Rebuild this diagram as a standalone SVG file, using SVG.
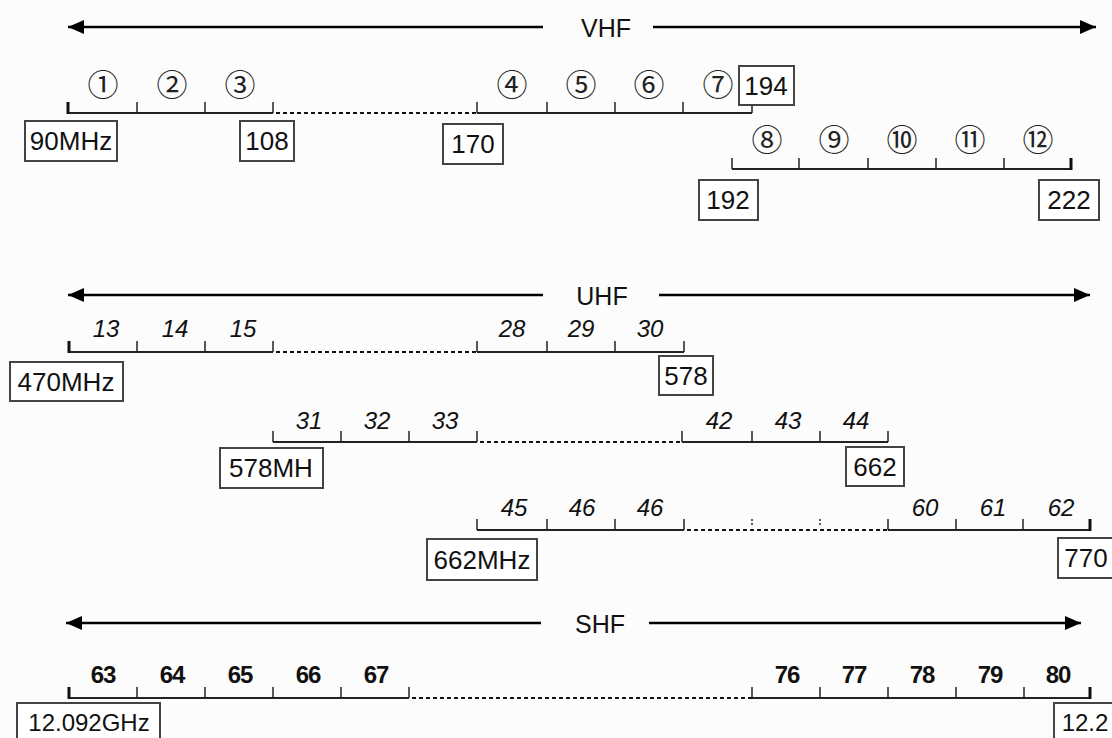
<svg xmlns="http://www.w3.org/2000/svg" width="1112" height="738" viewBox="0 0 1112 738">
<defs>
<marker id="ah" markerUnits="userSpaceOnUse" markerWidth="18" markerHeight="14" refX="16" refY="7" orient="auto"><path d="M0,0 L16,7 L0,14 z" fill="#000"/></marker>
<style>
.ax{stroke:#000;stroke-width:2.5;fill:none}
.band{font-family:"Liberation Sans",Arial,sans-serif;font-size:25px;fill:#111;text-anchor:middle}
.rl{stroke:#222;stroke-width:2;fill:none}
.tk{stroke:#222;stroke-width:1.5;fill:none}
.tkb{stroke:#111;stroke-width:3;fill:none}
.dot{stroke:#111;stroke-width:2;stroke-dasharray:4 3;fill:none}
.mini{stroke:#222;stroke-width:1.5;stroke-dasharray:2 2;fill:none}
.cir{font-family:"Noto Sans CJK JP","DejaVu Sans",sans-serif;font-size:31px;fill:#222;text-anchor:middle}
.it{font-family:"Liberation Sans",Arial,sans-serif;font-style:italic;font-size:24px;fill:#111;text-anchor:middle}
.bd{font-family:"Liberation Sans",Arial,sans-serif;font-weight:bold;font-size:24px;fill:#111;text-anchor:middle;letter-spacing:-1px}
.bx rect{fill:#fff;stroke:#444;stroke-width:2}
.bx text{font-family:"Liberation Sans",Arial,sans-serif;font-size:26px;fill:#111;text-anchor:middle}
.bx text.s{font-size:24px}
</style>
</defs>
<rect width="1112" height="738" fill="#fbfcfb"/>

<g id="connectors">
  <line class="ax" x1="543" y1="27" x2="68" y2="27" marker-end="url(#ah)"/>
  <line class="ax" x1="653" y1="27" x2="1096" y2="27" marker-end="url(#ah)"/>
  <line class="ax" x1="543" y1="295" x2="68" y2="295" marker-end="url(#ah)"/>
  <line class="ax" x1="659" y1="295" x2="1090" y2="295" marker-end="url(#ah)"/>
  <line class="ax" x1="541" y1="623" x2="66" y2="623" marker-end="url(#ah)"/>
  <line class="ax" x1="649" y1="623" x2="1081" y2="623" marker-end="url(#ah)"/>

  <path class="rl" d="M67,113 H273 M477,113 H752"/>
  <path class="tk" d="M137,102V113 M205,102V113 M273,102V113 M477,102V113 M547,102V113 M615,102V113 M683,102V113 M752,105V113"/>
  <path class="tkb" d="M68,102V114"/>
  <path class="dot" d="M276,113 H477"/>

  <path class="rl" d="M732,169 H1072"/>
  <path class="tk" d="M732,158V169 M799,158V169 M868,158V169 M936,158V169 M1004,158V169"/>
  <path class="tkb" d="M1071,158V170"/>

  <path class="rl" d="M68,352 H273 M477,352 H684"/>
  <path class="tk" d="M137,341V352 M205,341V352 M273,341V352 M477,341V352 M547,341V352 M615,341V352 M684,341V352"/>
  <path class="tkb" d="M69,341V353"/>
  <path class="dot" d="M276,352 H477"/>

  <path class="rl" d="M273,442 H477 M682,442 H888"/>
  <path class="tk" d="M273,431V442 M341,431V442 M409,431V442 M477,431V442 M682,431V442 M752,431V442 M820,431V442 M888,431V442"/>
  <path class="dot" d="M480,442 H682"/>

  <path class="rl" d="M477,530 H684 M888,530 H1091"/>
  <path class="tk" d="M477,519V530 M547,519V530 M615,519V530 M684,519V530 M888,519V530 M956,519V530 M1023,519V530"/>
  <path class="tkb" d="M1090,519V531"/>
  <path class="dot" d="M687,530 H888"/>
  <path class="mini" d="M752,519V527 M820,519V527"/>

  <path class="rl" d="M68,698 H409 M752,698 H1091"/>
  <path class="tk" d="M137,687V698 M205,687V698 M273,687V698 M341,687V698 M409,687V698 M752,687V698 M820,687V698 M888,687V698 M956,687V698 M1024,687V698"/>
  <path class="tkb" d="M69,687V699 M1090,687V699"/>
  <path class="dot" d="M412,698 H752"/>
</g>

<g id="band-labels">
  <text id="vhf" class="band" x="606" y="37">VHF</text>
  <text id="uhf" class="band" x="602" y="305">UHF</text>
  <text id="shf" class="band" x="600" y="633">SHF</text>
</g>

<g id="vhf-channels">
  <text class="cir" x="103" y="96">①</text>
  <text class="cir" x="172" y="96">②</text>
  <text class="cir" x="240" y="96">③</text>
  <text class="cir" x="512" y="96">④</text>
  <text class="cir" x="581" y="96">⑤</text>
  <text class="cir" x="649" y="96">⑥</text>
  <text class="cir" x="718" y="96">⑦</text>
  <text class="cir" x="767" y="151">⑧</text>
  <text class="cir" x="834" y="151">⑨</text>
  <text class="cir" x="902" y="151">⑩</text>
  <text class="cir" x="970" y="151">⑪</text>
  <text class="cir" x="1038" y="151">⑫</text>
</g>

<g id="uhf-channels">
  <text class="it" x="106" y="337">13</text>
  <text class="it" x="175" y="337">14</text>
  <text class="it" x="243" y="337">15</text>
  <text class="it" x="512" y="337">28</text>
  <text class="it" x="581" y="337">29</text>
  <text class="it" x="650" y="337">30</text>
  <text class="it" x="309" y="429">31</text>
  <text class="it" x="377" y="429">32</text>
  <text class="it" x="445" y="429">33</text>
  <text class="it" x="719" y="429">42</text>
  <text class="it" x="788" y="429">43</text>
  <text class="it" x="856" y="429">44</text>
  <text class="it" x="514" y="516">45</text>
  <text class="it" x="582" y="516">46</text>
  <text class="it" x="650" y="516">46</text>
  <text class="it" x="925" y="516">60</text>
  <text class="it" x="993" y="516">61</text>
  <text class="it" x="1061" y="516">62</text>
</g>

<g id="shf-channels">
  <text class="bd" x="103" y="683">63</text>
  <text class="bd" x="172" y="683">64</text>
  <text class="bd" x="240" y="683">65</text>
  <text class="bd" x="308" y="683">66</text>
  <text class="bd" x="376" y="683">67</text>
  <text class="bd" x="787" y="683">76</text>
  <text class="bd" x="854" y="683">77</text>
  <text class="bd" x="922" y="683">78</text>
  <text class="bd" x="990" y="683">79</text>
  <text class="bd" x="1058" y="683">80</text>
</g>

<g id="box-90" class="bx"><rect x="25" y="121" width="92" height="40"/><text x="71" y="150">90MHz</text></g>
<g id="box-108" class="bx"><rect x="240" y="121" width="54" height="40"/><text x="267" y="150">108</text></g>
<g id="box-170" class="bx"><rect x="443" y="124" width="60" height="40"/><text x="473" y="153">170</text></g>
<g id="box-194" class="bx"><rect x="739" y="66" width="55" height="39"/><text x="766" y="95">194</text></g>
<g id="box-192" class="bx"><rect x="699" y="180" width="59" height="40"/><text x="728" y="209">192</text></g>
<g id="box-222" class="bx"><rect x="1039" y="180" width="60" height="40"/><text x="1069" y="209">222</text></g>
<g id="box-470" class="bx"><rect x="10" y="362" width="113" height="39"/><text x="66" y="391">470MHz</text></g>
<g id="box-578" class="bx"><rect x="659" y="356" width="54" height="39"/><text x="686" y="385">578</text></g>
<g id="box-578mh" class="bx"><rect x="220" y="448" width="103" height="40"/><text x="271" y="477">578MH</text></g>
<g id="box-662" class="bx"><rect x="846" y="447" width="58" height="39"/><text x="875" y="476">662</text></g>
<g id="box-662mhz" class="bx"><rect x="427" y="539" width="110" height="41"/><text x="482" y="569">662MHz</text></g>
<g id="box-770" class="bx"><rect x="1058" y="538" width="70" height="40"/><text x="1086" y="567">770</text></g>
<g id="box-12092" class="bx"><rect x="17" y="703" width="143" height="50"/><text class="s" x="89" y="731">12.092GHz</text></g>
<g id="box-122" class="bx"><rect x="1054" y="703" width="80" height="50"/><text class="s" x="1085" y="731">12.2</text></g>
</svg>
